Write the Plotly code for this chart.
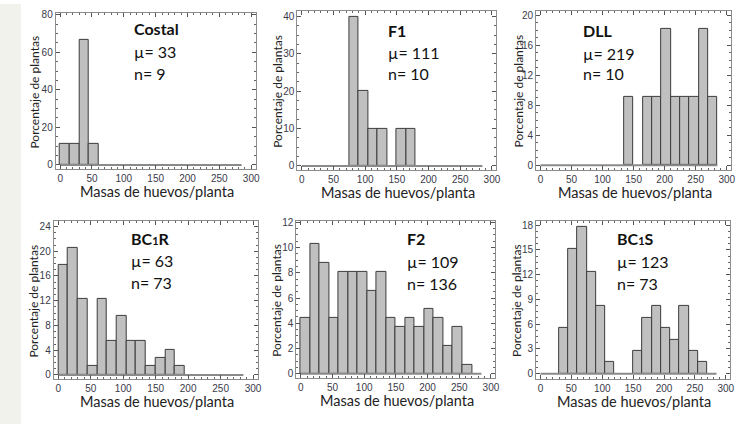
import plotly.graph_objects as go

W, H = 756, 426

# ---- data ----
bin_starts = [0, 15, 30, 45, 60, 75, 90, 105, 120, 135, 150, 165, 180, 195, 210, 225, 240, 255, 270]
bin_width = 15

costal = [11.1, 11.1, 66.7, 11.1, 0, 0, 0, 0, 0, 0, 0, 0, 0, 0, 0, 0, 0, 0, 0]
f1 = [0, 0, 0, 0, 0, 40, 20, 10, 10, 0, 10, 10, 0, 0, 0, 0, 0, 0, 0]
dll = [0, 0, 0, 0, 0, 0, 0, 0, 0, 9.1, 0, 9.1, 9.1, 18.2, 9.1, 9.1, 9.1, 18.2, 9.1]
bc1r = [17.8, 20.5, 12.3, 1.4, 12.3, 5.5, 9.6, 5.5, 5.5, 1.4, 2.7, 4.1, 1.4, 0, 0, 0, 0, 0, 0]
f2 = [4.4, 10.3, 8.8, 4.4, 8.1, 8.1, 8.1, 6.6, 8.1, 4.4, 3.7, 4.4, 3.7, 5.1, 4.4, 2.2, 3.7, 0.7, 0]
bc1s = [0, 0, 5.5, 15.1, 17.8, 12.3, 8.2, 1.4, 0, 0, 2.7, 6.8, 8.2, 5.5, 4.1, 8.2, 2.7, 1.4, 0]

names = ["Costal", "F1", "DLL", "BC<span style='font-size:11px'>1</span>R", "F2",
         "BC<span style='font-size:11px'>1</span>S"]
means = [33, 111, 219, 63, 109, 123]
ns = [9, 10, 10, 73, 136, 73]
series = [costal, f1, dll, bc1r, f2, bc1s]

x_ticks = [0, 50, 100, 150, 200, 250, 300]
y_dticks = [20, 10, 4, 4, 2, 3]
y_ranges = [[-2, 81], [-1, 41.5], [-0.6, 20.6], [-0.6, 24.9], [-0.3, 12.1], [-0.6, 18.5]]
x_range = [-7, 307]

# ---- layout (pixels) ----
panels_px = [  # x0, x1, y0(top), y1(bottom)
    (56, 257, 9, 167),
    (299, 499, 7, 168),
    (539, 735, 7, 168),
    (54, 259, 220, 380),
    (298, 498, 220, 379),
    (539, 734, 220, 380),
]
label_px = [  # left x of label text, y centres of 3 lines
    (133, (25, 48, 70)),
    (388, (27, 49, 71)),
    (584, (27, 50, 71)),
    (130, (238, 260, 282)),
    (407, (238, 261, 283)),
    (618, (238, 261, 283)),
]
ytitle_x = [35, 279, 521, 34, 278, 520]


def px(x):
    return x / W


def py(y):
    return 1 - y / H


fig = go.Figure()
BAR_FILL = "#c0c0c0"
BAR_EDGE = "#3c3c3c"
FRAME = "#8c8c8c"
TICKFONT = dict(family="Liberation Sans, Arial", size=10, color="#3a3a4a")
TXT = "Lato, Carlito, Calibri, sans-serif"

annotations = []
for i, (vals, (x0, x1, y0, y1)) in enumerate(zip(series, panels_px)):
    k = "" if i == 0 else str(i + 1)
    xa, ya = "x" + k, "y" + k
    # baseline (zero-height bins)
    fig.add_trace(go.Scatter(
        x=[bin_starts[0], bin_starts[-1] + bin_width], y=[0, 0], mode="lines",
        line=dict(color="#8a8a8a", width=2), xaxis=xa, yaxis=ya,
        showlegend=False, hoverinfo="skip"))
    xs = [b + bin_width / 2 for b, v in zip(bin_starts, vals) if v > 0]
    ys = [v for v in vals if v > 0]
    fig.add_trace(go.Bar(
        x=xs, y=ys, width=bin_width, marker=dict(color=BAR_FILL, line=dict(color=BAR_EDGE, width=1)),
        xaxis=xa, yaxis=ya, showlegend=False))
    common = dict(showgrid=False, zeroline=False, showline=True, linecolor=FRAME, linewidth=1,
                  mirror="allticks", ticks="inside", ticklen=4, tickcolor="#555", tickwidth=1,
                  tickfont=TICKFONT)
    fig.layout["xaxis" + k] = dict(
        domain=[px(x0), px(x1)], anchor=ya, range=x_range, tickvals=x_ticks,
        minor=dict(ticks="inside", ticklen=2, dtick=10, tickcolor="#666"), **common)
    fig.layout["yaxis" + k] = dict(
        domain=[py(y1), py(y0)], anchor=xa, range=y_ranges[i], dtick=y_dticks[i], tick0=0,
        minor=dict(ticks="inside", ticklen=2, dtick=y_dticks[i] / 4, tickcolor="#666"), **common)

    lx, lys = label_px[i]
    texts = ["<b>%s</b>" % names[i], "µ= %d" % means[i], "n= %d" % ns[i]]
    for t, yy in zip(texts, lys):
        annotations.append(dict(text=t, x=px(lx), y=py(yy), xref="paper", yref="paper",
                                xanchor="left", yanchor="middle", showarrow=False,
                                font=dict(family=TXT, size=16, color="#111")))
    # x title
    annotations.append(dict(text="Masas de huevos/planta", x=px((x0 + x1) / 2 + 1),
                            y=py(y1 + 23), xref="paper", yref="paper", xanchor="center",
                            yanchor="middle", showarrow=False,
                            font=dict(family=TXT, size=14.5, color="#222")))
    # y title
    annotations.append(dict(text="Porcentaje de plantas", x=px(ytitle_x[i]),
                            y=py((y0 + y1) / 2 + 1), xref="paper", yref="paper",
                            xanchor="center", yanchor="middle", textangle=-90, showarrow=False,
                            font=dict(family=TXT, size=12, color="#222")))

fig.update_layout(
    width=W, height=H, margin=dict(l=0, r=0, t=0, b=0),
    paper_bgcolor="white", plot_bgcolor="white", bargap=0,
    annotations=annotations,
    shapes=[dict(type="rect", xref="paper", yref="paper", x0=0, x1=px(21), y0=0, y1=1,
                 fillcolor="#f2f2ec", line=dict(width=0), layer="below")],
)

fig.write_html("out.html", config={"displayModeBar": False},
               post_script="document.body.style.margin='0px';")
